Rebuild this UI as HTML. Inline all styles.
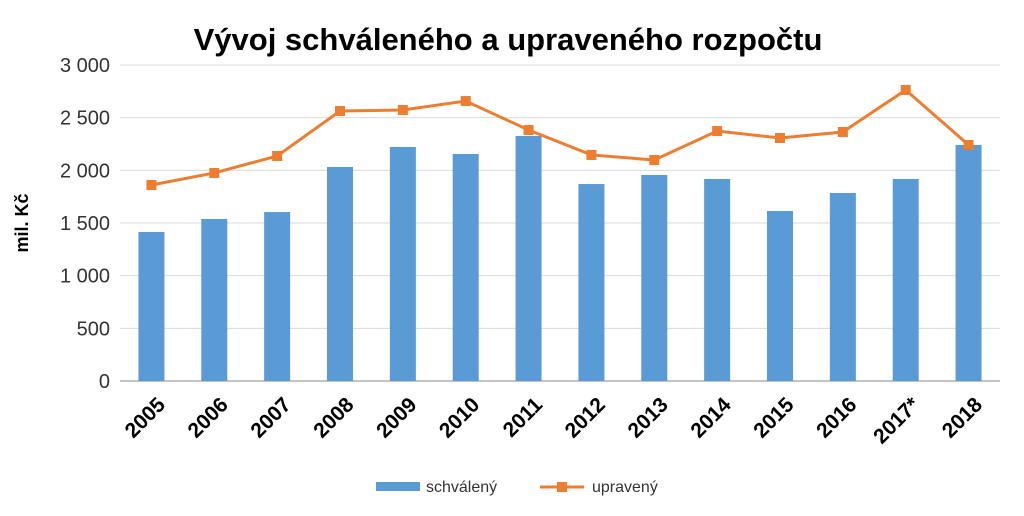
<!DOCTYPE html>
<html><head><meta charset="utf-8"><style>
body{margin:0;background:#fff;width:1024px;height:511px;overflow:hidden;font-family:"Liberation Sans",sans-serif}
</style></head><body>
<svg id="chart" width="1024" height="511" xmlns="http://www.w3.org/2000/svg">
<text x="508" y="50" text-anchor="middle" font-size="31" font-weight="bold" fill="#000">Vývoj schváleného a upraveného rozpočtu</text>
<text transform="translate(28,223) rotate(-90)" text-anchor="middle" font-size="18" font-weight="bold">mil. Kč</text>
<g id="grid"></g><g id="bars"></g><g id="line"></g><g id="labels"></g>
<g>
<rect x="376" y="482" width="44" height="9" fill="#5b9bd5"/>
<text x="426" y="492" font-size="16" fill="#333">schválený</text>
<line x1="540" y1="487" x2="584" y2="487" stroke="#ed7d31" stroke-width="3"/>
<rect x="557" y="482" width="10" height="10" fill="#ed7d31"/>
<text x="592" y="492" font-size="16" fill="#333">upravený</text>
</g>
</svg>
<script>
const categories=["2005","2006","2007","2008","2009","2010","2011","2012","2013","2014","2015","2016","2017*","2018"];
const schvaleny=[1415,1538,1604,2032,2222,2155,2326,1870,1956,1918,1614,1785,1918,2241];
const upraveny=[1861,1975,2136,2563,2573,2658,2383,2146,2098,2373,2307,2364,2763,2241];
const yTicks=[0,500,1000,1500,2000,2500,3000];
const yTickLabels=["0","500","1 000","1 500","2 000","2 500","3 000"];
const NS="http://www.w3.org/2000/svg";
const L=120,R=1000,T=65,B=381,step=(R-L)/categories.length;
const x=i=>L+step*(i+0.5), y=v=>B-(v/3000)*(B-T);
function mk(t,a,p){const e=document.createElementNS(NS,t);for(const k in a)e.setAttribute(k,a[k]);p.appendChild(e);return e;}
const g=document.getElementById('grid'),bars=document.getElementById('bars'),ln=document.getElementById('line'),lab=document.getElementById('labels');
yTicks.forEach((v,i)=>{
 const l=mk('line',{x1:L,x2:R,y1:y(v),y2:y(v),stroke:i==0?'#888':'#d9d9d9','stroke-width':1},g);
 
 
 const t=mk('text',{x:L-10,y:y(v)+7,'text-anchor':'end','font-size':20,fill:'#333'},lab);
 t.textContent=yTickLabels[i];
 
 
});
schvaleny.forEach((v,i)=>{
 const r=mk('rect',{x:x(i)-13,y:y(v),width:26,height:B-y(v),fill:'#5b9bd5'},bars);
 
 
});
const p=mk('polyline',{points:upraveny.map((v,i)=>x(i)+','+y(v)).join(' '),fill:'none',stroke:'#ed7d31','stroke-width':3},ln);


upraveny.forEach((v,i)=>{
 const m=mk('rect',{x:x(i)-5,y:y(v)-5,width:10,height:10,fill:'#ed7d31'},ln);
 
 
});
categories.forEach((c,i)=>{
 const t=mk('text',{transform:`translate(${x(i)+15},${B+25}) rotate(-45)`,'text-anchor':'end','font-size':21,'font-weight':'bold',fill:'#000'},lab);
 t.textContent=c;
 
 
});
</script>
</body></html>
